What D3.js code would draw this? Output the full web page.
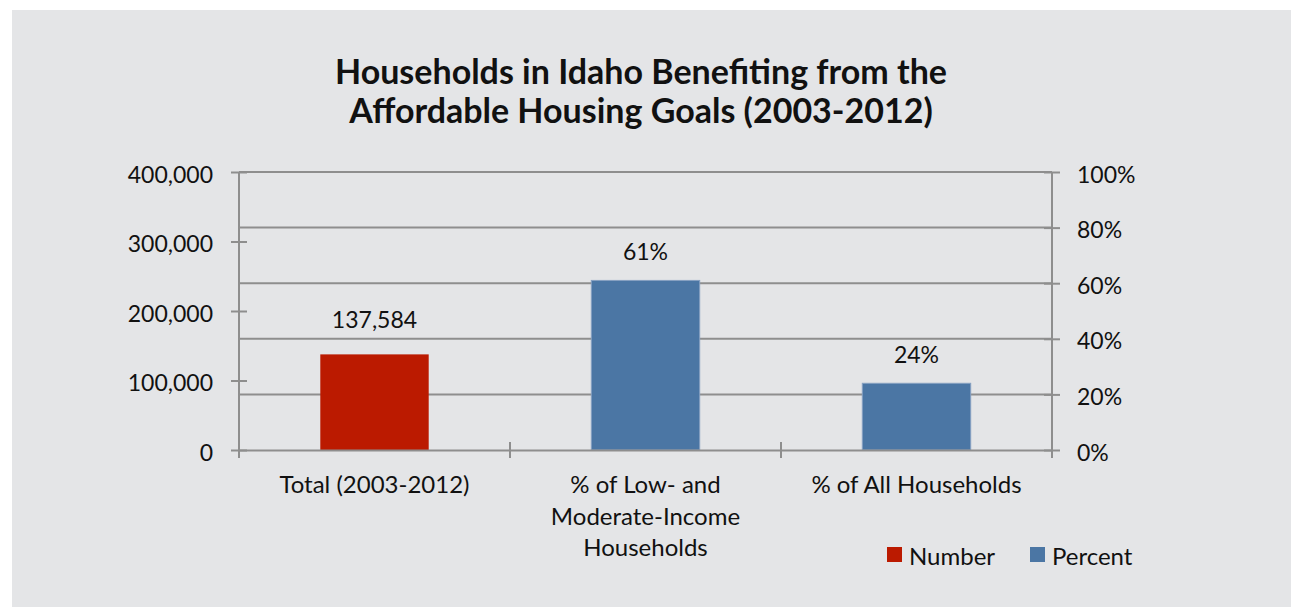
<!DOCTYPE html>
<html>
<head>
<meta charset="utf-8">
<script src="https://cdn.jsdelivr.net/npm/d3@7"></script>
<style>
  body { margin: 0; background: #fff; }
  text { font-family: Lato, "Open Sans", sans-serif; fill: #111; }
</style>
</head>
<body>
<svg id="chart" width="1291" height="607"></svg>
<script>
const titleLines = ["Households in Idaho Benefiting from the", "Affordable Housing Goals (2003-2012)"];
const categories = ["Total (2003-2012)", "% of Low- and\nModerate-Income\nHouseholds", "% of All Households"];
const series = ["Number", "Percent"];
const numberValues = [137584, null, null];
const percentValues = [null, 0.61, 0.24];
const numberTicks = [0, 100000, 200000, 300000, 400000];
const percentTicks = [0, 0.2, 0.4, 0.6, 0.8, 1.0];

const COLORS = { Number: "#bb1a00", Percent: "#4b76a4" };
const GRID = "#8e8e8e";

const svg = d3.select("#chart");
const width = 1291;
const height = 607;

// gray panel
svg.append("rect")
  .attr("x", 12).attr("y", 10)
  .attr("width", width - 12).attr("height", height - 10)
  .attr("fill", "#e4e5e7");

// title
svg.append("text")
  .attr("x", 641)
  .attr("text-anchor", "middle")
  .style("font-weight", "bold")
  .style("font-size", "34px")
  .selectAll("tspan")
  .data(titleLines)
  .enter()
  .append("tspan")
  .attr("x", 641)
  .attr("y", (d, i) => 84 + i * 38.5)
  .text((d) => d);

const plotLeft = 239, plotRight = 1052, plotTop = 172, plotBottom = 450;

const x = d3.scaleBand()
  .domain(categories)
  .range([plotLeft, plotRight])
  .paddingInner(0.6)
  .paddingOuter(0.3);
const yNum = d3.scaleLinear().domain([0, 400000]).range([plotBottom, plotTop]);
const yPct = d3.scaleLinear().domain([0, 1]).range([plotBottom, plotTop]);

// gridlines follow the secondary axis
svg.append("g")
  .selectAll("line")
  .data(percentTicks.filter((d) => d > 0))
  .enter()
  .append("line")
  .attr("x1", plotLeft).attr("x2", plotRight)
  .attr("y1", (d) => yPct(d)).attr("y2", (d) => yPct(d))
  .attr("stroke", GRID).attr("stroke-width", 2);

// bars
const numData = categories.map((c, i) => ({ cat: c, v: numberValues[i] })).filter((d) => d.v != null);
const pctData = categories.map((c, i) => ({ cat: c, v: percentValues[i] })).filter((d) => d.v != null);

svg.append("g")
  .selectAll("rect")
  .data(numData)
  .enter()
  .append("rect")
  .attr("x", (d) => x(d.cat))
  .attr("width", x.bandwidth())
  .attr("y", (d) => yNum(d.v))
  .attr("height", (d) => plotBottom - yNum(d.v))
  .attr("fill", COLORS.Number);

svg.append("g")
  .selectAll("rect")
  .data(pctData)
  .enter()
  .append("rect")
  .attr("x", (d) => x(d.cat))
  .attr("width", x.bandwidth())
  .attr("y", (d) => yPct(d.v))
  .attr("height", (d) => plotBottom - yPct(d.v))
  .attr("fill", COLORS.Percent)
  .attr("stroke", "#86a0c2")
  .attr("stroke-width", 1);

// data labels
svg.append("g")
  .selectAll("text")
  .data(numData)
  .enter()
  .append("text")
  .attr("x", (d) => x(d.cat) + x.bandwidth() / 2)
  .attr("y", (d) => yNum(d.v) - 26)
  .attr("text-anchor", "middle")
  .style("font-size", "23px")
  .text((d) => d3.format(",")(d.v));

svg.append("g")
  .selectAll("text")
  .data(pctData)
  .enter()
  .append("text")
  .attr("x", (d) => x(d.cat) + x.bandwidth() / 2)
  .attr("y", (d) => yPct(d.v) - 20)
  .attr("text-anchor", "middle")
  .style("font-size", "23px")
  .text((d) => d3.format(".0%")(d.v));

// left axis
const axL = svg.append("g")
  .attr("transform", `translate(${plotLeft},0)`)
  .call(d3.axisLeft(yNum).tickValues(numberTicks).tickFormat(d3.format(",")).tickSizeInner(8).tickSizeOuter(0).tickPadding(18));
// right axis
const axR = svg.append("g")
  .attr("transform", `translate(${plotRight},0)`)
  .call(d3.axisRight(yPct).tickValues(percentTicks).tickFormat(d3.format(".0%")).tickSizeInner(8).tickSizeOuter(0).tickPadding(17));

[axL, axR].forEach((ax) => {
  ax.select(".domain").attr("stroke", GRID).attr("stroke-width", 2).attr("d", `M0,${plotBottom + 8}V${plotTop}`);
  ax.selectAll(".tick line").attr("x1", -8).attr("x2", 8).attr("stroke", GRID).attr("stroke-width", 2);
  ax.selectAll(".tick text").attr("dy", "0.44em").style("font-size", "23px").style("font-family", "Lato, sans-serif").attr("fill", "#111");
});

// bottom axis
const axB = svg.append("g")
  .attr("transform", `translate(0,${plotBottom})`)
  .call(d3.axisBottom(x).tickSize(0).tickPadding(0).tickFormat(""));
axB.select(".domain").attr("stroke", GRID).attr("stroke-width", 2);
axB.selectAll(".tick").remove();

const bounds = d3.range(categories.length + 1).map((i) => plotLeft + i * x.step());
axB.selectAll("line.bound")
  .data(bounds)
  .enter()
  .append("line")
  .attr("class", "bound")
  .attr("x1", (d) => d).attr("x2", (d) => d)
  .attr("y1", -8).attr("y2", 8)
  .attr("stroke", GRID).attr("stroke-width", 2);

const catText = svg.append("g")
  .selectAll("text")
  .data(categories)
  .enter()
  .append("text")
  .attr("text-anchor", "middle")
  .style("font-size", "24px");
catText.selectAll("tspan")
  .data((d) => d.split("\n").map((line) => ({ line, cat: d })))
  .enter()
  .append("tspan")
  .attr("x", (d) => x(d.cat) + x.bandwidth() / 2)
  .attr("y", (d, i) => 493 + i * 31.7)
  .text((d) => d.line);

// legend
const legendX = [887, 1030];
const legend = svg.append("g")
  .selectAll("g")
  .data(series)
  .enter()
  .append("g")
  .attr("transform", (d, i) => `translate(${legendX[i]},547)`);
legend.append("rect")
  .attr("width", 15).attr("height", 15)
  .attr("fill", (d) => COLORS[d]);
legend.append("text")
  .attr("x", 22).attr("y", 18)
  .style("font-size", "24px")
  .text((d) => d);
</script>
</body>
</html>
